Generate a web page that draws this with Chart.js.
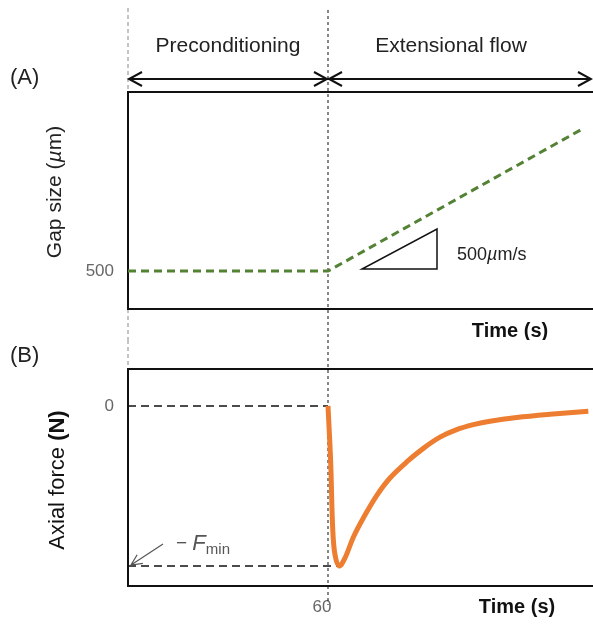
<!DOCTYPE html>
<html>
<head>
<meta charset="utf-8">
<script src="https://cdn.jsdelivr.net/npm/chart.js@4.4.1/dist/chart.umd.min.js"></script>
<style>
  body { margin: 0; background: #fff; }
  #wrap { position: relative; width: 593px; height: 624px; }
  .panel { position: absolute; left: 0; width: 593px; }
</style>
</head>
<body>
<div id="wrap">
  <div class="panel" style="top:0;height:340px"><canvas id="gapChart" width="593" height="340"></canvas></div>
  <div class="panel" style="top:340px;height:284px"><canvas id="forceChart" width="593" height="284"></canvas></div>
</div>
<script>
'use strict'

// Data (schematic)
const gapTime = [0, 60, 136.2];
const gapSize = [500, 500, 2370];
const gapTicks = [500];

const forceTime = [60, 60.8, 61.4, 62.1, 63.4, 65.1, 67.6, 70.6, 74.6, 78.6, 83.6, 88.6, 93.6, 98.6, 103.6, 108.6, 116.6, 126.6, 138.1];
const forceValue = [0, -0.35, -0.76, -0.93, -1.0, -0.95, -0.82, -0.70, -0.56, -0.45, -0.35, -0.265, -0.195, -0.148, -0.117, -0.095, -0.072, -0.052, -0.033];
const forceTicks = [0];
const timeTicks = [60];

const FONT = '"Liberation Sans", Arial, sans-serif';
const TIME_MAX = 139.5;

function xy(xs, ys) {
  return xs.map((x, i) => ({ x: x, y: ys[i] }));
}

function drawRuns(ctx, runs, x, y, align) {
  let total = 0;
  runs.forEach(r => { ctx.font = r[1]; total += ctx.measureText(r[0]).width; });
  let cx = align === 'center' ? x - total / 2 : x;
  runs.forEach(r => {
    ctx.font = r[1];
    ctx.fillText(r[0], cx, y + (r[2] || 0));
    cx += ctx.measureText(r[0]).width;
  });
}

function dashedLine(ctx, x1, y1, x2, y2, dash, color, width) {
  ctx.save();
  ctx.setLineDash(dash);
  ctx.strokeStyle = color;
  ctx.lineWidth = width;
  ctx.beginPath();
  ctx.moveTo(x1, y1);
  ctx.lineTo(x2, y2);
  ctx.stroke();
  ctx.restore();
}

function drawFrame(chart) {
  const ctx = chart.ctx, a = chart.chartArea;
  ctx.save();
  ctx.strokeStyle = '#111';
  ctx.lineWidth = 2;
  ctx.beginPath();
  ctx.moveTo(a.right + 3, a.top);
  ctx.lineTo(a.left, a.top);
  ctx.lineTo(a.left, a.bottom);
  ctx.lineTo(a.right + 3, a.bottom);
  ctx.stroke();
  ctx.restore();
}

function chevron(ctx, x, y, dir) {
  ctx.beginPath();
  ctx.moveTo(x - dir * 13, y - 7);
  ctx.lineTo(x, y);
  ctx.lineTo(x - dir * 13, y + 7);
  ctx.stroke();
}

// open arrow head at (x2, y2) pointing away from (x1, y1)
function arrowLine(ctx, x1, y1, x2, y2, size) {
  const ang = Math.atan2(y2 - y1, x2 - x1);
  ctx.beginPath();
  ctx.moveTo(x1, y1);
  ctx.lineTo(x2, y2);
  ctx.moveTo(x2 - size * Math.cos(ang - 0.45), y2 - size * Math.sin(ang - 0.45));
  ctx.lineTo(x2, y2);
  ctx.lineTo(x2 - size * Math.cos(ang + 0.45), y2 - size * Math.sin(ang + 0.45));
  ctx.stroke();
}

function fixedAxes(yWidth, xHeight) {
  return {
    y: { afterFit: s => { s.width = yWidth; } },
    x: { afterFit: s => { s.height = xHeight; } }
  };
}

// Top panel: gap size
const gapPlugin = {
  id: 'gapDecor',
  beforeDatasetsDraw(chart) {
    const ctx = chart.ctx, x = chart.scales.x;
    const x0 = x.getPixelForValue(0), x60 = x.getPixelForValue(60);
    dashedLine(ctx, x0, 8, x0, 340, [4, 3], '#888', 1);
    dashedLine(ctx, x60, 10, x60, 340, [3, 3], '#111', 1);
    drawFrame(chart);
  },
  afterDraw(chart) {
    const ctx = chart.ctx, x = chart.scales.x;
    const x0 = x.getPixelForValue(0), x60 = x.getPixelForValue(60);
    ctx.save();
    ctx.fillStyle = '#222';
    ctx.textBaseline = 'middle';
    ctx.textAlign = 'left';
    drawRuns(ctx, [['Preconditioning', '21px ' + FONT]], (x0 + x60) / 2, 46, 'center');
    drawRuns(ctx, [['Extensional flow', '21px ' + FONT]], 451, 46, 'center');
    drawRuns(ctx, [['(A)', '22px ' + FONT]], 10, 78);

    // phase arrows
    ctx.strokeStyle = '#111';
    ctx.lineWidth = 2;
    ctx.beginPath();
    ctx.moveTo(x0 + 1, 79);
    ctx.lineTo(591, 79);
    ctx.stroke();
    chevron(ctx, x0 + 1, 79, -1);
    chevron(ctx, x60 - 1, 79, 1);
    chevron(ctx, x60 + 1, 79, -1);
    chevron(ctx, 591, 79, 1);

    // slope triangle
    ctx.lineWidth = 1.5;
    ctx.beginPath();
    ctx.moveTo(362, 269);
    ctx.lineTo(437, 269);
    ctx.lineTo(437, 229);
    ctx.closePath();
    ctx.stroke();
    drawRuns(ctx, [['500', '18px ' + FONT], ['\u00b5', 'italic 18px ' + FONT], ['m/s', '18px ' + FONT]], 457, 255);

    // y title
    ctx.save();
    ctx.translate(55, 192);
    ctx.rotate(-Math.PI / 2);
    drawRuns(ctx, [['Gap size (', '21px ' + FONT], ['\u00b5', 'italic 21px ' + FONT], ['m)', '21px ' + FONT]], 0, 0, 'center');
    ctx.restore();

    ctx.fillStyle = '#111';
    drawRuns(ctx, [['Time (s)', 'bold 20px ' + FONT]], 510, 331, 'center');
    ctx.restore();
  }
};

const gapAxes = fixedAxes(128, 31);
new Chart(document.getElementById('gapChart'), {
  type: 'line',
  data: {
    datasets: [{
      label: 'Gap size',
      data: xy(gapTime, gapSize),
      borderColor: '#548235',
      borderWidth: 3,
      borderDash: [8, 5],
      pointRadius: 0,
      fill: false
    }]
  },
  options: {
    responsive: false,
    animation: false,
    layout: { padding: { top: 92, left: 0, right: 0, bottom: 0 } },
    plugins: { legend: { display: false }, tooltip: { enabled: false } },
    scales: {
      x: {
        type: 'linear', min: 0, max: TIME_MAX,
        grid: { display: false, drawTicks: false },
        border: { display: false },
        ticks: { display: false },
        afterFit: gapAxes.x.afterFit
      },
      y: {
        min: 0, max: 2860,
        grid: { display: false, drawTicks: false },
        border: { display: false },
        afterBuildTicks: s => { s.ticks = gapTicks.map(v => ({ value: v })); },
        ticks: { color: '#666', padding: 14, font: { family: FONT, size: 17 } },
        afterFit: gapAxes.y.afterFit
      }
    }
  },
  plugins: [gapPlugin]
});

// Bottom panel: axial force
const forcePlugin = {
  id: 'forceDecor',
  beforeDatasetsDraw(chart) {
    const ctx = chart.ctx, x = chart.scales.x, y = chart.scales.y;
    const x0 = x.getPixelForValue(0), x60 = x.getPixelForValue(60);
    dashedLine(ctx, x0, 0, x0, chart.chartArea.top, [4, 3], '#888', 1);
    dashedLine(ctx, x60, 0, x60, 265, [3, 3], '#111', 1);
    dashedLine(ctx, x0, y.getPixelForValue(0), x60, y.getPixelForValue(0), [8, 5], '#111', 1.5);
    dashedLine(ctx, x0, y.getPixelForValue(-1), x.getPixelForValue(63.4), y.getPixelForValue(-1), [8, 5], '#111', 1.5);
    drawFrame(chart);
  },
  afterDraw(chart) {
    const ctx = chart.ctx, x = chart.scales.x, y = chart.scales.y;
    const x0 = x.getPixelForValue(0), yMin = y.getPixelForValue(-1);
    ctx.save();
    ctx.fillStyle = '#222';
    ctx.textBaseline = 'middle';
    drawRuns(ctx, [['(B)', '22px ' + FONT]], 10, 16);

    // -Fmin label with arrow
    ctx.strokeStyle = '#555';
    ctx.lineWidth = 1.2;
    arrowLine(ctx, 163, 204, x0 + 3, yMin - 1, 12);
    ctx.fillStyle = '#555';
    drawRuns(ctx, [['\u2212 ', '19px ' + FONT], ['F', 'italic 22px ' + FONT], ['min', '15px ' + FONT, 6]], 176, 204);

    // y title
    ctx.fillStyle = '#111';
    ctx.save();
    ctx.translate(58, 480 - 340);
    ctx.rotate(-Math.PI / 2);
    drawRuns(ctx, [['Axial force ', '22px ' + FONT], ['(N)', 'bold 22px ' + FONT]], 0, 0, 'center');
    ctx.restore();

    drawRuns(ctx, [['Time (s)', 'bold 20px ' + FONT]], 517, 267, 'center');
    ctx.restore();
  }
};

const forceAxes = fixedAxes(128, 38);
new Chart(document.getElementById('forceChart'), {
  type: 'line',
  data: {
    datasets: [{
      label: 'Axial force',
      data: xy(forceTime, forceValue),
      borderColor: '#ED7D31',
      borderWidth: 5,
      tension: 0.35,
      pointRadius: 0,
      fill: false
    }]
  },
  options: {
    responsive: false,
    animation: false,
    layout: { padding: { top: 29, left: 0, right: 0, bottom: 0 } },
    plugins: { legend: { display: false }, tooltip: { enabled: false } },
    scales: {
      x: {
        type: 'linear', min: 0, max: TIME_MAX,
        grid: { display: false, drawTicks: false },
        border: { display: false },
        afterBuildTicks: s => { s.ticks = timeTicks.map(v => ({ value: v })); },
        ticks: { color: '#666', padding: 11, labelOffset: -6, maxRotation: 0, font: { family: FONT, size: 17 } },
        afterFit: forceAxes.x.afterFit
      },
      y: {
        min: -1.125, max: 0.231,
        grid: { display: false, drawTicks: false },
        border: { display: false },
        afterBuildTicks: s => { s.ticks = forceTicks.map(v => ({ value: v })); },
        ticks: { color: '#666', padding: 14, font: { family: FONT, size: 17 } },
        afterFit: forceAxes.y.afterFit
      }
    }
  },
  plugins: [forcePlugin]
});
</script>
</body>
</html>
